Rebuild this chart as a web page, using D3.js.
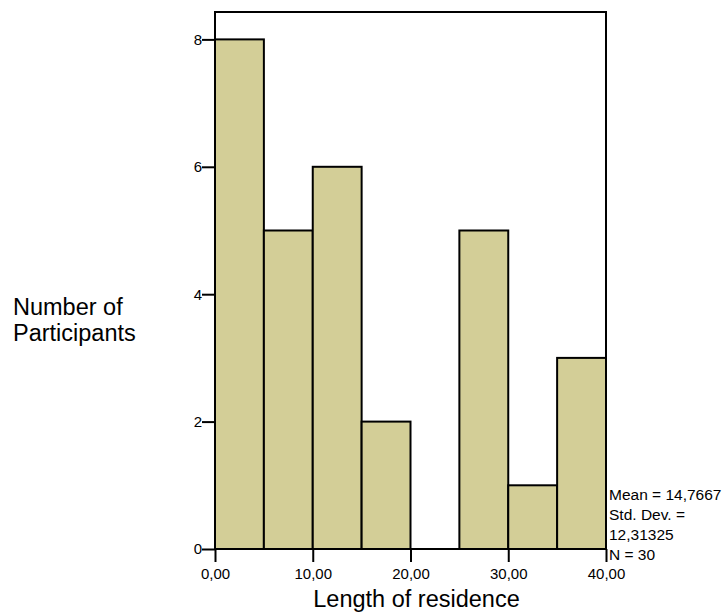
<!DOCTYPE html>
<html>
<head>
<meta charset="utf-8">
<script src="https://cdn.jsdelivr.net/npm/d3@7"></script>
<style>
  html, body { margin: 0; padding: 0; background: #fff; }
  svg { display: block; font-family: "Liberation Sans", Arial, sans-serif; }
</style>
</head>
<body>
<svg id="chart" width="725" height="615"></svg>
<script>
// Histogram bins (Length of residence) and counts
const binStarts = [0, 5, 10, 15, 20, 25, 30, 35];
const binWidth = 5;
const counts = [8, 5, 6, 2, 0, 5, 1, 3];
const xTicks = [0, 10, 20, 30, 40];
const yTicks = [0, 2, 4, 6, 8];
const xDomain = [0, 40];
const yDomain = [0, 8.43];
const statLines = ["Mean = 14,7667", "Std. Dev. =", "12,31325", "N = 30"];
const xTitle = "Length of residence";
const yTitleLines = ["Number of", "Participants"];

(function () {
const svg = d3.select("#chart");
const pL = 215, pR = 606, pT = 12, pB = 549;

const x = d3.scaleLinear().domain(xDomain).range([pL, pR]);
const y = d3.scaleLinear().domain(yDomain).range([pB, pT]);

const locale = d3.formatLocale({decimal: ",", thousands: ".", grouping: [3], currency: ["", ""]});
const fmt2 = locale.format(".2f");

// bars
svg.append("g").selectAll("rect")
  .data(binStarts.map((s, i) => ({s, c: counts[i]})))
  .join("rect")
  .attr("x", d => x(d.s))
  .attr("width", d => x(d.s + binWidth) - x(d.s))
  .attr("y", d => y(d.c))
  .attr("height", d => y(0) - y(d.c))
  .attr("fill", "#d3ce97")
  .attr("stroke", "#000")
  .attr("stroke-width", 2);

// frame
svg.append("rect")
  .attr("x", pL).attr("y", pT)
  .attr("width", pR - pL).attr("height", pB - pT)
  .attr("fill", "none").attr("stroke", "#000").attr("stroke-width", 2);

// axes
const gx = svg.append("g").attr("transform", `translate(0,${pB})`)
  .call(d3.axisBottom(x).tickValues(xTicks).tickFormat(fmt2).tickSize(13).tickPadding(6));
const gy = svg.append("g").attr("transform", `translate(${pL},0)`)
  .call(d3.axisLeft(y).tickValues(yTicks).tickFormat(d3.format("d")).tickSize(13).tickPadding(0));
[gx, gy].forEach(g => {
  g.select(".domain").remove();
  g.selectAll(".tick line").attr("stroke", "#000").attr("stroke-width", 2);
  g.selectAll(".tick text").attr("fill", "#000")
    .style("font-family", '"Liberation Sans", Arial, sans-serif').style("font-size", "15px");
});

// axis titles
svg.append("text")
  .attr("x", (313 + 520) / 2).attr("y", 607)
  .attr("text-anchor", "middle")
  .style("font-size", "23.5px")
  .text(xTitle);

svg.append("text")
  .attr("x", 13).attr("y", 315)
  .style("font-size", "23.5px")
  .selectAll("tspan").data(yTitleLines).join("tspan")
  .attr("x", 13).attr("dy", (d, i) => i === 0 ? 0 : 26)
  .text(d => d);

// stats
svg.append("g").selectAll("text").data(statLines).join("text")
  .attr("x", 609).attr("y", (d, i) => 500 + i * 20)
  .style("font-size", "15.5px")
  .text(d => d);
})();
</script>
</body>
</html>
